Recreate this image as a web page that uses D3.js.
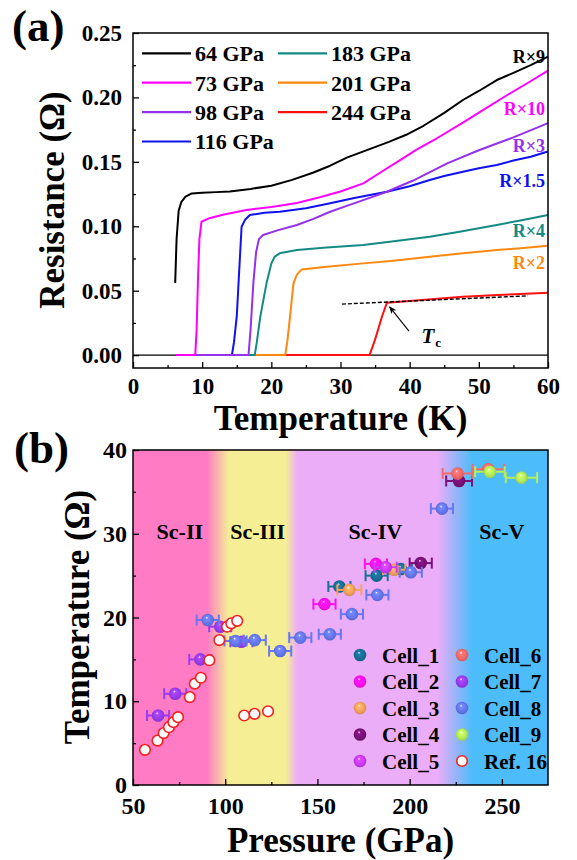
<!DOCTYPE html>
<html>
<head>
<meta charset="utf-8">
<script src="https://cdn.jsdelivr.net/npm/d3@7"></script>
<style>
  body { margin: 0; background: #fff; }
  svg text { font-family: "Liberation Serif", "Times New Roman", serif; font-weight: bold; }
</style>
</head>
<body>
<div id="chart"></div>
<script>
// ---------- panel (a): R(T) curves, [temperature K, resistance Ω] ----------
const curve64 = [[6.1,0.056],[6.3,0.09],[6.6,0.112],[7.0,0.119],[7.6,0.123],[8.5,0.1255],[10,0.126],[12,0.1265],[14,0.127],[17,0.129],[20,0.1315],[23,0.136],[26,0.1415],[28.5,0.147],[31,0.1535],[34,0.1595],[37,0.1655],[39.5,0.171],[42,0.178],[45,0.188],[47.7,0.198],[50,0.205],[52.6,0.2135],[55,0.219],[57.5,0.225],[60,0.2316]];
const curve73 = [[6.2,0],[9.0,0],[9.2,0.02],[9.4,0.06],[9.6,0.09],[9.9,0.1035],[10.9,0.106],[13,0.109],[16.4,0.1126],[20,0.115],[23.7,0.118],[27,0.1225],[30,0.127],[33.3,0.1333],[36,0.1425],[38.5,0.151],[41,0.1595],[44,0.1685],[47.7,0.1805],[51,0.1915],[54,0.2015],[57,0.211],[60,0.2208]];
const curve98 = [[6.2,0],[16.7,0],[17.0,0.02],[17.4,0.056],[17.8,0.08],[18.2,0.09],[18.8,0.0932],[21,0.097],[23.7,0.101],[26,0.1055],[28.5,0.1113],[31,0.116],[33.3,0.1203],[36.7,0.1268],[40.5,0.1355],[45.5,0.149],[50,0.159],[55,0.169],[60,0.18]];
const curve116 = [[6.2,0],[14.3,0],[14.6,0.01],[15,0.03],[15.4,0.07],[15.7,0.0996],[16.2,0.105],[16.9,0.1087],[19,0.1105],[21.2,0.1113],[25,0.114],[28.5,0.1178],[32,0.122],[36.7,0.1268],[40,0.131],[42.9,0.1359],[45,0.139],[47.7,0.1423],[50,0.145],[52.6,0.1475],[55,0.151],[57.5,0.154],[60,0.158]];
const curve183 = [[6.2,0],[17.6,0],[17.9,0.01],[18.4,0.0297],[19.3,0.0557],[20,0.071],[20.5,0.0765],[21.2,0.079],[23.7,0.0815],[28,0.0835],[33.3,0.0854],[38,0.0885],[42.9,0.0918],[47,0.0955],[52.6,0.101],[56,0.1045],[60,0.1087]];
const curve201 = [[6.2,0],[22,0],[22.3,0.01],[22.7,0.0297],[23.2,0.0557],[23.7,0.0625],[24.4,0.0665],[28,0.0685],[33.3,0.0712],[38,0.0735],[42.9,0.0763],[47.7,0.079],[52.6,0.0815],[56,0.083],[60,0.0849]];
const curve244 = [[6.2,0],[34.2,0],[35.0,0.012],[36,0.03],[36.7,0.0406],[40,0.042],[44,0.0437],[47.7,0.0453],[52,0.0465],[56,0.0475],[60,0.0484]];

const curveNames = ["64 GPa", "73 GPa", "98 GPa", "116 GPa", "183 GPa", "201 GPa", "244 GPa"];
const curveColors = ["#000000", "#ff00ff", "#9430ee", "#1010f0", "#138a84", "#ff8810", "#ff1010"];
const factorLabels = ["R×9", "R×10", "R×3", "R×1.5", "R×4", "R×2"];
const factorAt = [0.2267, 0.1863, 0.1576, 0.1304, 0.0916, 0.0668]; // Ω, label baselines
const tcDashed = [[30.2, 0.0396], [57.1, 0.046]];
const tcArrow = [[39.9, 0.0186], [37.1, 0.0375]];
const tcLabelAt = [41.7, 0.0093];

const aXTicks = [0, 10, 20, 30, 40, 50, 60];
const aXMinor = [5, 15, 25, 35, 45, 55];
const aYTicks = [0, 0.05, 0.10, 0.15, 0.20, 0.25];
const aYMinor = [0.025, 0.075, 0.125, 0.175, 0.225];

// ---------- panel (b): Tc vs pressure, [P GPa, Tc K, P error GPa] ----------
const cell1 = [[161.9,23.7,6],[182.1,25.0,6],[195.2,25.8,6]];
const cell2 = [[153.8,21.6,6],[181.7,26.4,6]];
const cell3 = [[167.3,23.3,6.5],[191.6,25.7,6]];
const cell4 = [[206.0,26.5,6],[226.8,36.3,7]];
const cell5 = [[187.0,26.0,6]];
const cell6 = [[225.9,37.2,8],[242.6,37.7,8.5]];
const cell7 = [[63.6,8.3,6],[72.9,10.9,6],[86.5,15.0,6],[97.3,18.9,6],[108.8,17.1,6]];
const cell8 = [[90.5,19.7,6],[105.6,17.2,6],[116.0,17.3,6],[129.8,16.0,6],[140.7,17.6,6],[156.7,18.0,6],[168.7,20.4,6],[182.5,22.7,6],[200.6,25.4,6],[217.5,33.0,6]];
const cell9 = [[243.5,37.4,8],[260.6,36.7,8.5]];
const ref16 = [[56.5,4.2],[63.3,5.3],[66.6,6.2],[69.5,6.9],[71.9,7.5],[74.4,8.1],[80.8,10.5],[83.5,12.1],[86.8,12.8],[91.4,14.9],[96.8,17.3],[101.0,18.9],[103.3,19.3],[106.5,19.6],[110.3,8.3],[115.9,8.5],[123.2,8.8]];

const cellNames = ["Cell_1", "Cell_2", "Cell_3", "Cell_4", "Cell_5", "Cell_6", "Cell_7", "Cell_8", "Cell_9"];
const cellColors = ["#1a6e98", "#ff10f0", "#f7a25c", "#7a1078", "#cc3cf8", "#f46a6a", "#9a3cf0", "#6678f0", "#b4ee5c"];
const cellData = [cell1, cell2, cell3, cell4, cell5, cell6, cell7, cell8, cell9];
const refName = "Ref. 16";

const phaseNames = ["Sc-II", "Sc-III", "Sc-IV", "Sc-V"];
const phaseCenters = [75.4, 117.6, 181.4, 250]; // GPa
const bandStops = [[50, "#ff7bc4"], [90, "#ff7bc4"], [102, "#f5ee95"], [133, "#f5ee95"], [139, "#ebadf8"], [215, "#ebadf8"], [234, "#4dbcfa"], [275, "#4dbcfa"]];

const bXTicks = [50, 100, 150, 200, 250];
const bXMinor = [75, 125, 175, 225];
const bYTicks = [0, 10, 20, 30, 40];
const bYMinor = [5, 15, 25, 35];

// ---------- svg ----------
const svg = d3.select("#chart").append("svg")
  .attr("width", 577)
  .attr("height", 860);

const defs = svg.append("defs");

// draws inward major + minor ticks on a given scale
function drawAxes(g, x, y, xt, xm, yt, ym, xfmt, yfmt, fs, xpad, ypad) {
  const xb = y.range()[0];
  const yl = x.range()[0];
  g.append("g").attr("transform", `translate(0,${xb})`)
    .call(d3.axisBottom(x).tickValues(xt).tickFormat(xfmt).tickSizeInner(-6).tickSizeOuter(0).tickPadding(xpad));
  g.append("g").attr("transform", `translate(0,${xb})`)
    .call(d3.axisBottom(x).tickValues(xm).tickFormat("").tickSizeInner(-3).tickSizeOuter(0));
  g.append("g").attr("transform", `translate(${yl},0)`)
    .call(d3.axisLeft(y).tickValues(yt).tickFormat(yfmt).tickSizeInner(-6).tickSizeOuter(0).tickPadding(ypad));
  g.append("g").attr("transform", `translate(${yl},0)`)
    .call(d3.axisLeft(y).tickValues(ym).tickFormat("").tickSizeInner(-3).tickSizeOuter(0));
  g.selectAll(".domain").remove();
  g.selectAll(".tick line").attr("stroke", "#000").attr("stroke-width", 1.3);
  g.selectAll(".tick text").attr("font-size", fs).attr("fill", "#000")
    .style("font-family", "'Liberation Serif', serif").style("font-weight", "bold");
  g.append("rect")
    .attr("x", x.range()[0]).attr("y", y.range()[1])
    .attr("width", x.range()[1] - x.range()[0])
    .attr("height", y.range()[0] - y.range()[1])
    .attr("fill", "none").attr("stroke", "#000").attr("stroke-width", 1.5);
}

// ================= panel (a) =================
const xA = d3.scaleLinear().domain([0, 60]).range([133, 548]);
const yA = d3.scaleLinear().domain([-0.01, 0.25]).range([368, 33]);
const gA = svg.append("g");

gA.append("line")
  .attr("x1", xA(0)).attr("x2", xA(60))
  .attr("y1", yA(0)).attr("y2", yA(0))
  .attr("stroke", "#000").attr("stroke-width", 1.3);

const lineA = d3.line().x(d => xA(d[0])).y(d => yA(d[1]));
const curves = [curve64, curve73, curve98, curve116, curve183, curve201, curve244];
// draw lowest-Tc last so the zero segments stack like the original
[6, 5, 4, 3, 2, 1, 0].forEach(i => {
  gA.append("path")
    .attr("d", lineA(curves[i]))
    .attr("fill", "none")
    .attr("stroke", curveColors[i])
    .attr("stroke-width", 2)
    .attr("stroke-linejoin", "round");
});

// multiplication factors
factorLabels.forEach((t, i) => {
  gA.append("text")
    .attr("x", 545).attr("y", yA(factorAt[i]))
    .attr("text-anchor", "end")
    .attr("font-size", 18)
    .attr("fill", curveColors[i])
    .text(t);
});

// Tc construction
gA.append("path")
  .attr("d", lineA(tcDashed))
  .attr("stroke", "#000").attr("stroke-width", 1.4)
  .attr("stroke-dasharray", "4,2").attr("fill", "none");

defs.append("marker")
  .attr("id", "arrow").attr("viewBox", "0 0 10 10")
  .attr("refX", 9).attr("refY", 5)
  .attr("markerWidth", 7).attr("markerHeight", 7)
  .attr("orient", "auto")
  .append("path").attr("d", "M0,1 L10,5 L0,9 L3,5 Z").attr("fill", "#000");

gA.append("path")
  .attr("d", lineA(tcArrow))
  .attr("stroke", "#000").attr("stroke-width", 1.1)
  .attr("marker-end", "url(#arrow)");

const tcText = gA.append("text")
  .attr("x", xA(tcLabelAt[0])).attr("y", yA(tcLabelAt[1]))
  .attr("font-size", 21);
tcText.append("tspan").style("font-style", "italic").text("T");
tcText.append("tspan").attr("font-size", 13).attr("dy", 4).attr("dx", 1).text("c");

// legend (a)
const legA = gA.append("g");
curveNames.forEach((name, i) => {
  const col = i < 4 ? 0 : 1;
  const row = i < 4 ? i : i - 4;
  const lx = col === 0 ? 142 : 278;
  const ly = 53.3 + row * 29.4;
  legA.append("line")
    .attr("x1", lx).attr("x2", lx + 49)
    .attr("y1", ly).attr("y2", ly)
    .attr("stroke", curveColors[i]).attr("stroke-width", 2.2);
  legA.append("text")
    .attr("x", lx + 53).attr("y", ly + 7.8)
    .attr("font-size", 22)
    .text(name);
});

drawAxes(gA, xA, yA, aXTicks, aXMinor, aYTicks, aYMinor,
  d3.format("d"), d3.format(".2f"), 23, 10, 11);

svg.append("text")
  .attr("x", 340.5).attr("y", 430)
  .attr("text-anchor", "middle").attr("font-size", 35)
  .text("Temperature (K)");

svg.append("text")
  .attr("transform", "translate(64,200) rotate(-90)")
  .attr("text-anchor", "middle").attr("font-size", 35)
  .text("Resistance (Ω)");

svg.append("text")
  .attr("x", 12).attr("y", 41)
  .attr("font-size", 45)
  .text("(a)");

// ================= panel (b) =================
const xB = d3.scaleLinear().domain([50, 275]).range([133, 548]);
const yB = d3.scaleLinear().domain([0, 40]).range([785, 450]);
const gB = svg.append("g");

const bg = defs.append("linearGradient")
  .attr("id", "bands")
  .attr("gradientUnits", "userSpaceOnUse")
  .attr("x1", xB(50)).attr("x2", xB(275))
  .attr("y1", 0).attr("y2", 0);
bandStops.forEach(s => {
  bg.append("stop")
    .attr("offset", (xB(s[0]) - xB(50)) / (xB(275) - xB(50)))
    .attr("stop-color", s[1]);
});

gB.append("rect")
  .attr("x", xB(50)).attr("y", yB(40))
  .attr("width", xB(275) - xB(50))
  .attr("height", yB(0) - yB(40))
  .attr("fill", "url(#bands)");

phaseNames.forEach((t, i) => {
  gB.append("text")
    .attr("x", xB(phaseCenters[i])).attr("y", 539)
    .attr("text-anchor", "middle")
    .attr("font-size", 22)
    .text(t);
});

// sphere shading for the markers
cellColors.forEach((c, i) => {
  const rg = defs.append("radialGradient")
    .attr("id", "sph" + i)
    .attr("cx", "50%").attr("cy", "50%").attr("r", "55%")
    .attr("fx", "42%").attr("fy", "30%");
  rg.append("stop").attr("offset", "0").attr("stop-color", "#ffffff");
  rg.append("stop").attr("offset", "0.2").attr("stop-color", d3.color(c).brighter(0.4));
  rg.append("stop").attr("offset", "0.6").attr("stop-color", c);
  rg.append("stop").attr("offset", "1").attr("stop-color", d3.color(c).darker(0.5));
});

cellData.forEach((pts, i) => {
  const g = gB.append("g");
  const c = cellColors[i];
  pts.forEach(p => {
    const y = yB(p[1]);
    const x0 = xB(p[0] - p[2]), x1 = xB(p[0] + p[2]);
    g.append("line").attr("x1", x0).attr("x2", x1).attr("y1", y).attr("y2", y)
      .attr("stroke", c).attr("stroke-width", 2);
    g.append("line").attr("x1", x0).attr("x2", x0).attr("y1", y - 5.5).attr("y2", y + 5.5)
      .attr("stroke", c).attr("stroke-width", 2);
    g.append("line").attr("x1", x1).attr("x2", x1).attr("y1", y - 5.5).attr("y2", y + 5.5)
      .attr("stroke", c).attr("stroke-width", 2);
  });
  g.selectAll("circle")
    .data(pts)
    .join("circle")
    .attr("cx", d => xB(d[0]))
    .attr("cy", d => yB(d[1]))
    .attr("r", 6.3)
    .attr("fill", `url(#sph${i})`);
});

gB.append("g").selectAll("circle")
  .data(ref16)
  .join("circle")
  .attr("cx", d => xB(d[0]))
  .attr("cy", d => yB(d[1]))
  .attr("r", 5.3)
  .attr("fill", "#fff")
  .attr("stroke", "#f52020")
  .attr("stroke-width", 1.6);

// legend (b)
const legB = gB.append("g");
const legNames = cellNames.concat([refName]);
legNames.forEach((name, i) => {
  const col = i < 5 ? 0 : 1;
  const row = i % 5;
  const mx = col === 0 ? 360 : 462;
  const my = 655 + row * 26.5;
  if (i < 9) {
    legB.append("circle").attr("cx", mx).attr("cy", my).attr("r", 6.3)
      .attr("fill", `url(#sph${i})`);
  } else {
    legB.append("circle").attr("cx", mx).attr("cy", my).attr("r", 5.3)
      .attr("fill", "#fff").attr("stroke", "#f52020").attr("stroke-width", 1.6);
  }
  legB.append("text")
    .attr("x", mx + 22).attr("y", my + 7.5)
    .attr("font-size", 21)
    .text(name);
});

drawAxes(gB, xB, yB, bXTicks, bXMinor, bYTicks, bYMinor,
  d3.format("d"), d3.format("d"), 24, 12, 6);

svg.append("text")
  .attr("x", 340.5).attr("y", 852)
  .attr("text-anchor", "middle").attr("font-size", 35)
  .text("Pressure (GPa)");

svg.append("text")
  .attr("transform", "translate(89,617) rotate(-90)")
  .attr("text-anchor", "middle").attr("font-size", 35)
  .text("Temperature (Ω)");

svg.append("text")
  .attr("x", 14).attr("y", 463)
  .attr("font-size", 45)
  .text("(b)");
</script>
</body>
</html>
